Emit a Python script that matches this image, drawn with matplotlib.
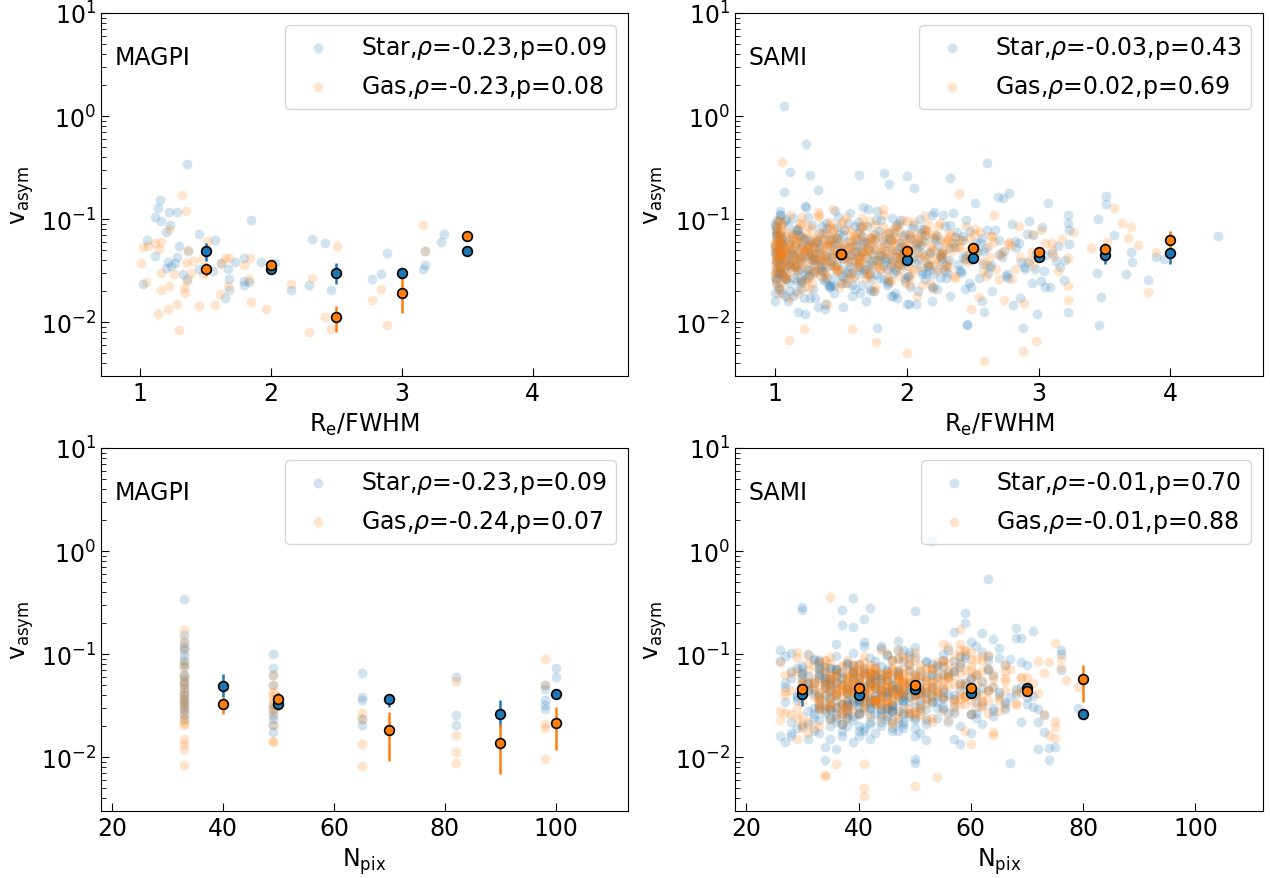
import matplotlib
matplotlib.use("Agg")
import matplotlib.pyplot as plt
import numpy as np

STAR_C = "#1f77b4"
GAS_C = "#ff7f0e"

# ---------------- MAGPI, v_asym vs Re/FWHM ----------------
magpi_star_re = [1.359, 1.149, 1.136, 1.113, 1.221, 1.282, 1.162, 1.851, 1.231, 1.195,
                 1.054, 1.449, 1.572, 1.297, 1.110, 1.282, 1.213, 1.264, 1.200, 1.238,
                 1.362, 1.328, 1.359, 1.021, 1.449, 1.559, 1.615, 1.674, 1.726, 1.795,
                 1.677, 1.679, 1.646, 1.795, 1.833, 1.795, 1.923, 2.031, 2.313, 2.413,
                 2.154, 2.287, 2.462, 2.774, 2.844, 2.887, 3.162, 3.174, 3.174, 3.297,
                 3.321]
magpi_star_v_re = [0.343, 0.153, 0.127, 0.104, 0.118, 0.116, 0.096, 0.099, 0.0875, 0.0753,
                   0.063, 0.0714, 0.062, 0.0542, 0.0436, 0.043, 0.0387, 0.0378, 0.0338, 0.0351,
                   0.0492, 0.0291, 0.0264, 0.0233, 0.0326, 0.0314, 0.0378, 0.033, 0.0387, 0.042,
                   0.026, 0.0205, 0.0171, 0.0251, 0.0245, 0.0228, 0.0387, 0.0378, 0.0634, 0.0588,
                   0.0203, 0.0231, 0.0203, 0.026, 0.0294, 0.0467, 0.033, 0.0359, 0.0488, 0.0601,
                   0.0719]
magpi_gas_re = [1.318, 1.351, 1.218, 1.521, 1.021, 1.059, 1.110, 1.162, 1.144, 1.362,
                1.003, 1.354, 1.405, 1.469, 1.649, 1.682, 1.621, 1.841, 1.792, 1.385,
                1.482, 1.162, 1.259, 1.041, 1.359, 1.831, 1.221, 1.156, 1.333, 1.346,
                1.674, 1.610, 1.851, 1.446, 1.569, 1.282, 1.213, 1.136, 1.959, 1.297,
                2.154, 2.313, 2.508, 2.415, 2.462, 2.287, 2.774, 2.844, 2.890, 3.162,
                3.174]
magpi_gas_v_re = [0.171, 0.120, 0.081, 0.0606, 0.0538, 0.0542, 0.058, 0.0593, 0.051, 0.0499,
                  0.0373, 0.0373, 0.0393, 0.0408, 0.0423, 0.0423, 0.0365, 0.0423, 0.0356, 0.0303,
                  0.0291, 0.0303, 0.0291, 0.0245, 0.0251, 0.0264, 0.0224, 0.0205, 0.0214, 0.0193,
                  0.0224, 0.0189, 0.0158, 0.0142, 0.0145, 0.0151, 0.0135, 0.0119, 0.0135, 0.0083,
                  0.0236, 0.0268, 0.0542, 0.0113, 0.0086, 0.0081, 0.0164, 0.0211, 0.0094, 0.0875,
                  0.0492]

magpi_re_bins = [1.5, 2.0, 2.5, 3.0, 3.5]
magpi_re_star_med = [0.0488, 0.0326, 0.0303, 0.0298, 0.0492]
magpi_re_star_lo = [0.039, 0.031, 0.0233, 0.029, 0.0465]
magpi_re_star_hi = [0.058, 0.0345, 0.0377, 0.0306, 0.052]
magpi_re_gas_med = [0.0326, 0.0359, 0.0112, 0.0191, 0.0688]
magpi_re_gas_lo = [0.0281, 0.034, 0.0081, 0.0123, 0.066]
magpi_re_gas_hi = [0.0377, 0.038, 0.0143, 0.027, 0.071]

# ---------------- MAGPI, v_asym vs Npix ----------------
magpi_star_npix = [33, 33, 33, 33, 33, 33, 33, 33, 33, 33, 33, 33,
                   33, 33, 33, 33, 33, 33, 33, 33, 33, 33, 33,
                   49, 49, 49, 49, 49, 49, 49, 49, 49, 49,
                   65, 65, 65, 65, 65,
                   82, 82, 82,
                   98, 98, 98, 98, 98,
                   100, 100]
magpi_star_v_npix = [0.343, 0.153, 0.127, 0.118, 0.110, 0.0977, 0.0875, 0.080, 0.0753, 0.063, 0.0602, 0.054,
                     0.0518, 0.047, 0.043, 0.040, 0.037, 0.035, 0.033, 0.031, 0.0284, 0.026, 0.0236,
                     0.0993, 0.0726, 0.0625, 0.0499, 0.0319, 0.0284, 0.0255, 0.0236, 0.0203, 0.0175,
                     0.0649, 0.0385, 0.0357, 0.0236, 0.0206,
                     0.060, 0.0258, 0.0203,
                     0.0499, 0.0463, 0.0357, 0.0319, 0.0296,
                     0.0726, 0.060]
magpi_gas_npix = [33, 33, 33, 33, 33, 33, 33, 33, 33, 33, 33,
                  33, 33, 33, 33, 33, 33, 33, 33, 33, 33, 33,
                  49, 49, 49, 49, 49, 49, 49, 49, 49, 49, 49,
                  65, 65, 65, 65,
                  82, 82, 82, 82,
                  98, 98, 98, 98, 98]
magpi_gas_v_npix = [0.171, 0.137, 0.114, 0.0843, 0.0753, 0.0625, 0.0558, 0.0518, 0.0463, 0.0414, 0.0385,
                    0.0343, 0.032, 0.0284, 0.0255, 0.0229, 0.0213, 0.0203, 0.0151, 0.0135, 0.012, 0.0083,
                    0.0625, 0.0499, 0.043, 0.040, 0.037, 0.033, 0.030, 0.027, 0.0203, 0.0145, 0.014,
                    0.027, 0.0236, 0.0135, 0.0082,
                    0.0546, 0.0165, 0.0112, 0.0087,
                    0.0888, 0.0499, 0.0211, 0.0191, 0.0095]

magpi_npix_bins = [40, 50, 70, 90, 100]
magpi_npix_star_med = [0.0488, 0.033, 0.0365, 0.026, 0.0411]
magpi_npix_star_lo = [0.0384, 0.031, 0.0307, 0.0195, 0.038]
magpi_npix_star_hi = [0.0634, 0.035, 0.0414, 0.0356, 0.044]
magpi_npix_gas_med = [0.0326, 0.0365, 0.0185, 0.0138, 0.0213]
magpi_npix_gas_lo = [0.0262, 0.0285, 0.0091, 0.0069, 0.0117]
magpi_npix_gas_hi = [0.0384, 0.043, 0.0275, 0.021, 0.0308]

# ---------------- SAMI (same galaxies in both panels) ----------------
sami_star_re = [1.00, 1.01, 1.02, 1.01, 1.03, 1.00, 1.04, 1.02, 1.05, 1.03,
                1.06, 1.01, 1.07, 1.04, 1.08, 1.02, 1.09, 1.05, 1.03, 1.07,
                1.10, 1.06, 1.08, 1.04, 1.09,
                1.11, 1.13, 1.12, 1.15, 1.14, 1.17, 1.16, 1.19, 1.18, 1.21,
                1.20, 1.23, 1.24, 1.25, 1.24, 1.27, 1.26, 1.29, 1.28, 1.12,
                1.16, 1.20, 1.24, 1.28, 1.14, 1.18, 1.22, 1.26, 1.30, 1.23,
                1.31, 1.33, 1.35, 1.32, 1.37, 1.34, 1.39, 1.36, 1.41, 1.38,
                1.43, 1.40, 1.45, 1.42, 1.47, 1.44, 1.49, 1.46, 1.51, 1.48,
                1.53, 1.50, 1.52, 1.54, 1.38,
                1.56, 1.58, 1.64, 1.57, 1.62, 1.59, 1.64, 1.61, 1.66, 1.63,
                1.68, 1.65, 1.70, 1.67, 1.72, 1.69, 1.74, 1.71, 1.76, 1.73,
                1.78, 1.75, 1.79, 1.77, 1.64,
                1.81, 1.83, 1.85, 1.82, 1.87, 1.84, 1.89, 1.86, 1.91, 1.88,
                1.93, 1.90, 1.95, 1.92, 1.97, 1.94, 1.99, 1.96, 2.00, 1.98,
                2.03, 2.02,
                2.06, 2.08, 2.10, 2.12, 2.14, 2.16, 2.18, 2.20, 2.22, 2.24,
                2.26, 2.28, 2.30, 2.32, 2.33, 2.07, 2.13, 2.19, 2.25, 2.31,
                2.37, 2.40, 2.43, 2.46, 2.49, 2.52, 2.55, 2.58, 2.61, 2.64,
                2.38, 2.44, 2.50, 2.46, 2.56, 2.62,
                2.69, 2.73, 2.78, 2.81, 2.85, 2.88, 2.92, 2.96, 2.99, 2.70,
                2.76, 2.83, 2.90, 2.95, 2.59,
                3.02, 3.05, 3.07, 3.13, 3.19, 3.22, 3.22, 3.23, 3.23, 3.22,
                3.10, 3.16,
                3.44, 3.45, 3.46, 3.47, 3.51, 3.51, 3.57, 3.66, 3.70, 3.71,
                3.83, 3.89, 3.95, 4.36,
                1.00, 1.02, 1.04, 1.01, 1.03, 1.05, 1.00, 1.02, 1.06, 1.01,
                1.03, 1.08, 1.00, 1.04, 1.07, 1.02, 1.09, 1.05, 1.01, 1.03,
                1.11, 1.15, 1.13, 1.19, 1.17, 1.22, 1.14, 1.25, 1.18, 1.28,
                1.12, 1.21, 1.16, 1.27, 1.23, 1.30, 1.19, 1.26, 1.13, 1.29,
                1.32, 1.36, 1.34, 1.40, 1.38, 1.43, 1.35, 1.46, 1.41, 1.49,
                1.33, 1.44, 1.37, 1.50, 1.47, 1.53, 1.39, 1.55, 1.42, 1.57,
                1.59, 1.62, 1.60, 1.66, 1.63, 1.69, 1.61, 1.72, 1.65, 1.75,
                1.58, 1.68, 1.64, 1.77, 1.71, 1.80, 1.67, 1.74, 1.79, 1.70,
                1.82, 1.85, 1.84, 1.90, 1.87, 1.93, 1.86, 1.96, 1.89, 1.99,
                1.83, 1.94, 1.88, 2.01, 1.97, 2.04, 1.91, 2.07, 1.95, 2.03,
                2.05, 2.09, 2.12, 2.08, 2.15, 2.11, 2.18, 2.14, 2.21, 2.17,
                2.24, 2.20, 2.27, 2.23, 2.30, 2.26, 2.33, 2.29, 2.36, 2.32,
                2.39, 2.42, 2.45, 2.41, 2.48, 2.44, 2.51, 2.47, 2.54, 2.57,
                2.60, 2.63, 2.67, 2.72, 2.77, 2.82, 2.87, 2.93, 2.98, 3.04,
                1.06, 1.10, 1.20, 1.31, 1.45, 1.52, 1.73, 1.88, 2.00, 2.19,
                1.04, 1.08, 1.24, 1.36, 1.48, 1.56, 1.78, 1.92, 2.10, 2.35,
                1.00, 1.01, 1.03, 1.02, 1.04, 1.00, 1.05, 1.01, 1.02, 1.03,
                1.07, 1.10, 1.14, 1.18, 1.21, 1.25, 1.29, 1.33, 1.37, 1.41,
                1.09, 1.12, 1.16, 1.20, 1.23, 1.27, 1.31, 1.35, 1.39, 1.43,
                1.45, 1.49, 1.53, 1.57, 1.61, 1.65, 1.69, 1.73, 1.77, 1.81,
                1.47, 1.51, 1.55, 1.59, 1.63, 1.67, 1.71, 1.75, 1.79, 1.83,
                1.85, 1.89, 1.93, 1.97, 2.01, 2.05, 2.09, 2.13, 2.17, 2.21,
                1.87, 1.91, 1.95, 1.99, 2.03, 2.07, 2.11, 2.15, 2.19, 2.23,
                2.25, 2.29, 2.33, 2.37, 2.41, 2.45, 2.49, 2.53, 2.57, 2.61,
                2.65, 2.70, 2.75, 2.80, 2.86, 2.91, 2.97, 3.03, 3.09, 3.15,
                1.04, 1.08, 1.13, 1.19, 1.26, 1.34, 1.42, 1.52, 1.62, 1.74,
                1.86, 1.98, 2.12, 2.27, 2.43, 2.58, 2.74, 2.89, 3.05, 3.20,
                1.01, 1.06, 1.11, 1.17, 1.24, 1.30, 1.38, 1.46, 1.56, 1.66]
sami_star_npix = [26, 31, 35, 28, 33, 38, 26, 42, 30, 36,
                  45, 29, 53, 33, 40, 27, 37, 44, 32, 39,
                  48, 34, 41, 30, 46,
                  31, 43, 30, 36, 49, 33, 38, 27, 34, 41,
                  52, 35, 63, 39, 44, 30, 47, 37, 32, 55,
                  40, 35, 42, 50, 28, 46, 33, 38, 57, 36,
                  34, 37, 29, 45, 40, 33, 51, 36, 42, 31,
                  48, 38, 35, 44, 39, 53, 32, 41, 46, 37,
                  30, 43, 49, 35, 58,
                  36, 42, 37, 47, 33, 39, 44, 52, 30, 40,
                  35, 46, 38, 41, 55, 34, 49, 43, 36, 60,
                  50, 31, 48, 45, 39,
                  44, 42, 37, 50, 41, 33, 46, 39, 54, 36,
                  48, 40, 43, 57, 35, 47, 38, 51, 50, 45,
                  34, 42,
                  59, 39, 45, 52, 36, 48, 41, 56, 43, 38,
                  50, 47, 61, 44, 59, 35, 53, 40, 49, 46,
                  42, 51, 45, 50, 56, 68, 44, 53, 39, 47,
                  58, 62, 40, 74, 54, 64,
                  57, 62, 68, 52, 60, 67, 48, 63, 72, 55,
                  66, 58, 70, 61, 75,
                  64, 69, 69, 71, 73, 76, 65, 70, 60, 74,
                  62, 66,
                  79, 76, 34, 73, 71, 64, 76, 72, 69, 67,
                  80, 65, 68, 57,
                  27, 33, 38, 30, 41, 35, 44, 31, 37, 29,
                  36, 42, 32, 47, 34, 39, 50, 28, 45, 40,
                  35, 41, 33, 46, 38, 30, 43, 37, 49, 34,
                  39, 32, 44, 36, 51, 40, 47, 31, 42, 38,
                  37, 43, 30, 48, 35, 41, 53, 33, 45, 39,
                  44, 36, 50, 34, 42, 38, 46, 32, 55, 40,
                  41, 35, 47, 39, 52, 33, 44, 37, 49, 43,
                  38, 46, 34, 50, 42, 36, 56, 40, 45, 48,
                  43, 39, 51, 36, 47, 41, 54, 34, 49, 45,
                  46, 40, 53, 38, 44, 58, 42, 50, 36, 48,
                  45, 52, 41, 49, 55, 43, 47, 60, 39, 51,
                  48, 44, 53, 57, 42, 50, 46, 62, 40, 54,
                  52, 47, 58, 45, 55, 61, 43, 50, 64, 56,
                  59, 54, 66, 61, 57, 64, 70, 63, 68, 71,
                  29, 26, 31, 28, 33, 27, 30, 32, 35, 28,
                  56, 58, 60, 57, 62, 59, 61, 63, 55, 65,
                  28, 32, 36, 40, 44, 48, 30, 34, 38, 42,
                  46, 33, 37, 41, 45, 49, 35, 39, 43, 47,
                  31, 35, 39, 43, 47, 51, 34, 38, 42, 46,
                  50, 36, 40, 44, 48, 52, 37, 41, 45, 49,
                  33, 38, 42, 46, 50, 54, 36, 40, 44, 48,
                  52, 39, 43, 47, 51, 55, 38, 42, 46, 50,
                  35, 41, 45, 49, 53, 57, 40, 44, 48, 52,
                  56, 43, 47, 51, 55, 59, 42, 46, 50, 54,
                  58, 61, 64, 67, 60, 63, 66, 69, 72, 62,
                  27, 29, 31, 33, 35, 37, 39, 41, 43, 45,
                  47, 49, 51, 53, 55, 57, 59, 61, 63, 65,
                  32, 34, 36, 38, 40, 42, 44, 46, 48, 50]
sami_star_v = [0.085, 0.052, 0.038, 0.068, 0.029, 0.046, 0.11, 0.034, 0.058, 0.022,
               0.043, 0.074, 1.26, 0.031, 0.049, 0.095, 0.026, 0.063, 0.041, 0.184,
               0.036, 0.055, 0.018, 0.071, 0.047,
               0.061, 0.039, 0.284, 0.044, 0.027, 0.079, 0.035, 0.052, 0.0125, 0.067,
               0.042, 0.029, 0.53, 0.056, 0.033, 0.27, 0.048, 0.021, 0.088, 0.037,
               0.058, 0.024, 0.064, 0.045, 0.102, 0.032, 0.017, 0.053, 0.040, 0.012,
               0.047, 0.19, 0.036, 0.061, 0.026, 0.074, 0.043, 0.031, 0.055, 0.015,
               0.039, 0.082, 0.050, 0.022, 0.066, 0.035, 0.045, 0.12, 0.028, 0.058,
               0.041, 0.033, 0.070, 0.024, 0.0135,
               0.052, 0.030, 0.27, 0.044, 0.064, 0.023, 0.038, 0.085, 0.048, 0.034,
               0.057, 0.019, 0.042, 0.13, 0.029, 0.060, 0.046, 0.036, 0.072, 0.026,
               0.0087, 0.051, 0.040, 0.098, 0.032,
               0.045, 0.28, 0.033, 0.062, 0.22, 0.039, 0.050, 0.025, 0.075, 0.036,
               0.043, 0.018, 0.058, 0.031, 0.047, 0.091, 0.027, 0.054, 0.26, 0.038,
               0.067, 0.015,
               0.20, 0.041, 0.056, 0.029, 0.070, 0.035, 0.048, 0.022, 0.063, 0.033,
               0.044, 0.110, 0.027, 0.052, 0.25, 0.037, 0.081, 0.016, 0.046, 0.030,
               0.054, 0.032, 0.068, 0.0095, 0.040, 0.143, 0.027, 0.049, 0.35, 0.036,
               0.075, 0.021, 0.045, 0.0093, 0.060, 0.030,
               0.163, 0.16, 0.18, 0.0146, 0.058, 0.0087, 0.038, 0.070, 0.012, 0.046,
               0.029, 0.052, 0.033, 0.024, 0.0125,
               0.025, 0.022, 0.142, 0.0394, 0.0257, 0.109, 0.0915, 0.0788, 0.0572, 0.0124,
               0.047, 0.034,
               0.030, 0.10, 0.0093, 0.0174, 0.166, 0.14, 0.070, 0.029, 0.0477, 0.038,
               0.0257, 0.0425, 0.041, 0.068,
               0.048, 0.062, 0.035, 0.077, 0.041, 0.029, 0.056, 0.044, 0.067, 0.038,
               0.053, 0.026, 0.090, 0.046, 0.033, 0.070, 0.040, 0.059, 0.031, 0.049,
               0.057, 0.036, 0.072, 0.043, 0.025, 0.064, 0.047, 0.032, 0.081, 0.040,
               0.034, 0.054, 0.020, 0.061, 0.045, 0.037, 0.069, 0.028, 0.050, 0.042,
               0.060, 0.039, 0.052, 0.027, 0.073, 0.044, 0.034, 0.058, 0.023, 0.047,
               0.041, 0.066, 0.031, 0.050, 0.037, 0.078, 0.045, 0.030, 0.062, 0.035,
               0.039, 0.055, 0.028, 0.068, 0.043, 0.033, 0.057, 0.021, 0.049, 0.063,
               0.046, 0.032, 0.075, 0.040, 0.052, 0.027, 0.061, 0.036, 0.044, 0.086,
               0.035, 0.058, 0.042, 0.030, 0.065, 0.048, 0.024, 0.054, 0.039, 0.071,
               0.050, 0.037, 0.063, 0.028, 0.045, 0.082, 0.033, 0.056, 0.041, 0.022,
               0.043, 0.060, 0.031, 0.052, 0.038, 0.074, 0.047, 0.026, 0.065, 0.035,
               0.055, 0.029, 0.047, 0.068, 0.036, 0.042, 0.088, 0.032, 0.058, 0.040,
               0.037, 0.063, 0.045, 0.030, 0.076, 0.041, 0.053, 0.024, 0.048, 0.066,
               0.052, 0.034, 0.079, 0.043, 0.027, 0.061, 0.038, 0.095, 0.046, 0.031,
               0.019, 0.016, 0.021, 0.017, 0.023, 0.014, 0.020, 0.018, 0.015, 0.022,
               0.110, 0.095, 0.130, 0.085, 0.105, 0.092, 0.120, 0.088, 0.100, 0.115,
               0.016, 0.024, 0.095, 0.030, 0.120, 0.019, 0.065, 0.027, 0.082, 0.021,
               0.028, 0.088, 0.018, 0.072, 0.025, 0.105, 0.031, 0.014, 0.062, 0.022,
               0.100, 0.020, 0.079, 0.026, 0.135, 0.017, 0.058, 0.032, 0.091, 0.023,
               0.019, 0.071, 0.027, 0.115, 0.021, 0.084, 0.016, 0.066, 0.029, 0.098,
               0.083, 0.024, 0.060, 0.018, 0.094, 0.030, 0.125, 0.020, 0.076, 0.026,
               0.023, 0.102, 0.017, 0.069, 0.028, 0.087, 0.020, 0.061, 0.032, 0.118,
               0.074, 0.019, 0.097, 0.025, 0.064, 0.015, 0.080, 0.029, 0.110, 0.021,
               0.027, 0.085, 0.018, 0.067, 0.031, 0.099, 0.022, 0.058, 0.016, 0.078,
               0.020, 0.062, 0.028, 0.090, 0.017, 0.071, 0.033, 0.084, 0.022, 0.055,
               0.034, 0.040, 0.046, 0.038, 0.044, 0.050, 0.036, 0.042, 0.048, 0.039,
               0.041, 0.035, 0.047, 0.039, 0.043, 0.037, 0.049, 0.034, 0.045, 0.040,
               0.026, 0.029, 0.024, 0.031, 0.027, 0.030, 0.025, 0.028, 0.032, 0.023]

sami_gas_re = [1.00, 1.01, 1.02, 1.03, 1.01, 1.04, 1.00, 1.05, 1.02, 1.06,
               1.03, 1.07, 1.04, 1.08, 1.05, 1.09, 1.01, 1.06, 1.03, 1.10,
               1.02, 1.07, 1.04, 1.08, 1.06, 1.11, 1.06, 1.09,
               1.12, 1.14, 1.13, 1.16, 1.15, 1.18, 1.17, 1.20, 1.19, 1.22,
               1.21, 1.24, 1.22, 1.26, 1.25, 1.28, 1.27, 1.30, 1.29, 1.32,
               1.31, 1.34, 1.33, 1.22, 1.15, 1.19, 1.26, 1.30, 1.35, 1.11,
               1.36, 1.38, 1.40, 1.37, 1.42, 1.39, 1.44, 1.41, 1.46, 1.43,
               1.48, 1.45, 1.50, 1.47, 1.52, 1.49, 1.54, 1.51, 1.56, 1.53,
               1.59, 1.55, 1.59, 1.57, 1.44, 1.40,
               1.61, 1.63, 1.65, 1.62, 1.67, 1.64, 1.69, 1.66, 1.71, 1.68,
               1.73, 1.70, 1.75, 1.72, 1.77, 1.74, 1.79, 1.76, 1.81, 1.78,
               1.83, 1.80, 1.82, 1.77,
               1.86, 1.88, 1.90, 1.87, 1.92, 1.89, 1.94, 1.91, 1.96, 1.93,
               1.98, 1.95, 2.00, 1.97, 2.02, 1.99, 2.04, 2.01, 2.06, 2.03,
               2.00, 2.08,
               2.11, 2.13, 2.15, 2.17, 2.19, 2.21, 2.23, 2.25, 2.27, 2.29,
               2.31, 2.33, 2.35, 2.37, 2.40, 2.14, 2.20, 2.26, 2.32, 2.40,
               2.43, 2.47, 2.49, 2.51, 2.55, 2.58, 2.59, 2.62, 2.65, 2.68,
               2.45, 2.53, 2.60, 2.66,
               2.74, 2.82, 2.85, 2.88, 2.89, 2.98, 3.02, 2.72, 2.78, 2.93,
               2.96, 3.05, 2.80, 2.95,
               3.10, 3.15, 3.22, 3.22, 3.22, 3.18, 3.26, 3.12,
               3.57, 3.63, 3.70, 3.68, 3.89, 3.83, 3.40, 3.52, 3.75,
               1.00, 1.01, 1.03, 1.02, 1.05, 1.00, 1.04, 1.02, 1.06, 1.03,
               1.01, 1.07, 1.04, 1.00, 1.08, 1.05, 1.02, 1.09, 1.03, 1.06,
               1.10, 1.13, 1.12, 1.16, 1.14, 1.19, 1.17, 1.22, 1.20, 1.25,
               1.11, 1.18, 1.15, 1.24, 1.21, 1.27, 1.23, 1.30, 1.26, 1.29,
               1.31, 1.34, 1.33, 1.38, 1.36, 1.41, 1.39, 1.44, 1.42, 1.47,
               1.32, 1.40, 1.37, 1.46, 1.43, 1.50, 1.45, 1.53, 1.48, 1.56,
               1.57, 1.60, 1.59, 1.64, 1.62, 1.67, 1.65, 1.70, 1.68, 1.73,
               1.58, 1.66, 1.63, 1.72, 1.69, 1.76, 1.71, 1.79, 1.74, 1.81,
               1.83, 1.86, 1.85, 1.90, 1.88, 1.93, 1.91, 1.96, 1.94, 1.99,
               1.84, 1.92, 1.89, 1.98, 1.95, 2.02, 1.97, 2.05, 2.00, 2.08,
               2.07, 2.10, 2.13, 2.09, 2.16, 2.12, 2.19, 2.15, 2.22, 2.18,
               2.25, 2.21, 2.28, 2.24, 2.31, 2.27, 2.34, 2.30, 2.37, 2.33,
               2.40, 2.44, 2.48, 2.52, 2.56, 2.61, 2.66, 2.71, 2.77, 2.86,
               1.05, 1.09, 1.18, 1.28, 1.35, 1.49, 1.61, 1.75, 1.87, 2.03,
               1.02, 1.12, 1.21, 1.33, 1.42, 1.54, 1.66, 1.82, 1.97, 2.14,
               1.03, 1.07, 1.16, 1.25, 1.38, 1.47, 1.58, 1.71, 1.86, 2.01,
               1.00, 1.02, 1.01, 1.03, 1.00, 1.04, 1.02, 1.05, 1.01, 1.03,
               1.06, 1.09, 1.13, 1.17, 1.21, 1.24, 1.28, 1.32, 1.36, 1.40,
               1.08, 1.11, 1.15, 1.19, 1.22, 1.26, 1.30, 1.34, 1.38, 1.42,
               1.44, 1.48, 1.52, 1.56, 1.60, 1.64, 1.68, 1.72, 1.76, 1.80,
               1.46, 1.50, 1.54, 1.58, 1.62, 1.66, 1.70, 1.74, 1.78, 1.82,
               1.84, 1.88, 1.92, 1.96, 2.00, 2.04, 2.08, 2.12, 2.16, 2.20,
               1.86, 1.90, 1.94, 1.98, 2.02, 2.06, 2.10, 2.14, 2.18, 2.22,
               2.24, 2.28, 2.32, 2.36, 2.40, 2.46, 2.52, 2.58, 2.64, 2.70,
               1.04, 1.07, 1.12, 1.18, 1.25, 1.31, 1.39, 1.47, 1.57, 1.67,
               1.79, 1.91, 2.03, 2.17, 2.31, 2.47, 2.63, 2.79, 2.95, 3.10,
               1.01, 1.05, 1.10, 1.16, 1.23, 1.29, 1.37, 1.45, 1.55, 1.65,
               1.03, 1.08, 1.14, 1.20, 1.27, 1.35, 1.43, 1.51, 1.61, 1.72]
sami_gas_npix = [30, 34, 28, 37, 32, 41, 26, 35, 39, 29,
                 44, 33, 38, 31, 42, 36, 27, 40, 30, 47,
                 26, 45, 34, 50, 35, 34, 38, 43,
                 36, 40, 33, 45, 38, 31, 47, 35, 42, 39,
                 51, 34, 36, 44, 30, 41, 37, 48, 33, 43,
                 46, 39, 29, 52, 35, 42, 38, 45, 40, 31,
                 37, 43, 34, 48, 39, 45, 32, 50, 41, 36,
                 46, 40, 53, 38, 44, 35, 49, 42, 47, 55,
                 41, 39, 51, 33, 58, 29,
                 42, 38, 47, 35, 51, 44, 40, 56, 37, 49,
                 45, 33, 53, 41, 48, 60, 39, 46, 43, 36,
                 50, 58, 44, 54,
                 45, 40, 52, 37, 48, 43, 55, 39, 50, 46,
                 42, 57, 47, 35, 53, 44, 49, 61, 41, 38,
                 41, 59,
                 47, 54, 42, 50, 58, 45, 61, 48, 52, 56,
                 44, 60, 49, 63, 58, 51, 46, 55, 62, 53,
                 57, 63, 60, 52, 64, 59, 41, 66, 62, 68,
                 55, 61, 65, 58,
                 64, 68, 72, 50, 75, 34, 66, 60, 70, 62,
                 65, 69, 73, 67,
                 70, 66, 72, 75, 74, 64, 76, 68,
                 75, 76, 74, 73, 79, 75, 71, 69, 77,
                 31, 36, 29, 40, 33, 38, 27, 43, 35, 32,
                 37, 41, 34, 45, 30, 39, 47, 33, 42, 36,
                 38, 44, 32, 40, 47, 35, 42, 37, 50, 34,
                 41, 36, 46, 39, 33, 48, 43, 37, 52, 40,
                 39, 45, 35, 50, 42, 37, 48, 33, 44, 41,
                 46, 38, 52, 36, 43, 40, 49, 35, 47, 55,
                 43, 37, 50, 41, 46, 34, 53, 39, 45, 48,
                 40, 49, 36, 52, 44, 38, 57, 42, 47, 50,
                 45, 41, 53, 38, 49, 43, 56, 36, 51, 47,
                 48, 42, 55, 40, 46, 59, 44, 52, 38, 50,
                 47, 54, 43, 51, 57, 45, 49, 60, 41, 53,
                 50, 46, 55, 59, 44, 52, 48, 62, 42, 56,
                 54, 58, 61, 53, 57, 63, 60, 66, 64, 69,
                 30, 28, 32, 29, 34, 31, 27, 33, 30, 26,
                 57, 59, 61, 56, 58, 60, 62, 55, 63, 59,
                 35, 39, 43, 47, 51, 37, 41, 45, 49, 53,
                 29, 33, 37, 41, 45, 31, 35, 39, 43, 47,
                 34, 38, 42, 46, 50, 36, 40, 44, 48, 32,
                 37, 41, 45, 49, 53, 39, 43, 47, 51, 35,
                 40, 44, 48, 52, 56, 42, 46, 50, 54, 38,
                 43, 47, 51, 55, 59, 45, 49, 53, 57, 41,
                 46, 50, 54, 58, 62, 48, 52, 56, 60, 44,
                 33, 37, 41, 45, 49, 35, 39, 43, 47, 51,
                 55, 59, 63, 57, 61, 65, 58, 62, 66, 60,
                 28, 30, 32, 34, 36, 38, 40, 42, 44, 46,
                 48, 50, 52, 54, 56, 58, 60, 62, 64, 66,
                 27, 31, 35, 39, 43, 47, 51, 55, 59, 63,
                 30, 34, 38, 42, 46, 50, 54, 58, 36, 40]
sami_gas_v = [0.052, 0.040, 0.065, 0.033, 0.078, 0.047, 0.028, 0.058, 0.043, 0.092,
              0.036, 0.055, 0.024, 0.070, 0.045, 0.031, 0.062, 0.050, 0.019, 0.038,
              0.083, 0.044, 0.057, 0.027, 0.355, 0.0067, 0.048, 0.035,
              0.049, 0.068, 0.037, 0.056, 0.030, 0.082, 0.044, 0.061, 0.025, 0.050,
              0.040, 0.073, 0.0086, 0.046, 0.034, 0.059, 0.021, 0.053, 0.042, 0.066,
              0.031, 0.048, 0.105, 0.038, 0.054, 0.045, 0.029, 0.064, 0.041, 0.017,
              0.051, 0.037, 0.070, 0.044, 0.058, 0.027, 0.047, 0.088, 0.035, 0.062,
              0.041, 0.053, 0.024, 0.066, 0.045, 0.032, 0.078, 0.049, 0.039, 0.057,
              0.0086, 0.043, 0.063, 0.029, 0.125, 0.015,
              0.055, 0.041, 0.072, 0.034, 0.060, 0.046, 0.026, 0.083, 0.050, 0.038,
              0.065, 0.030, 0.044, 0.095, 0.053, 0.036, 0.069, 0.022, 0.048, 0.040,
              0.058, 0.033, 0.110, 0.0064,
              0.049, 0.062, 0.037, 0.075, 0.044, 0.055, 0.028, 0.067, 0.041, 0.086,
              0.052, 0.033, 0.059, 0.046, 0.071, 0.024, 0.050, 0.039, 0.064, 0.043,
              0.0050, 0.018,
              0.057, 0.043, 0.079, 0.036, 0.065, 0.050, 0.031, 0.092, 0.047, 0.060,
              0.039, 0.070, 0.054, 0.027, 0.175, 0.045, 0.021, 0.063, 0.034, 0.052,
              0.062, 0.045, 0.0135, 0.071, 0.0174, 0.039, 0.0042, 0.055, 0.068, 0.033,
              0.085, 0.050, 0.028, 0.110,
              0.0164, 0.0328, 0.085, 0.0053, 0.0152, 0.0066, 0.078, 0.048, 0.060, 0.040,
              0.036, 0.0587, 0.026, 0.072,
              0.050, 0.031, 0.042, 0.0225, 0.0164, 0.064, 0.0742, 0.044,
              0.127, 0.091, 0.083, 0.065, 0.0477, 0.0197, 0.052, 0.060, 0.056,
              0.054, 0.041, 0.068, 0.047, 0.035, 0.059, 0.044, 0.073, 0.038, 0.051,
              0.046, 0.063, 0.032, 0.056, 0.042, 0.078, 0.049, 0.036, 0.061, 0.043,
              0.058, 0.039, 0.052, 0.070, 0.045, 0.033, 0.064, 0.048, 0.040, 0.085,
              0.044, 0.060, 0.037, 0.053, 0.067, 0.041, 0.050, 0.029, 0.057, 0.046,
              0.051, 0.035, 0.062, 0.045, 0.074, 0.039, 0.055, 0.043, 0.066, 0.031,
              0.040, 0.057, 0.047, 0.069, 0.036, 0.052, 0.081, 0.044, 0.060, 0.038,
              0.063, 0.045, 0.054, 0.034, 0.071, 0.049, 0.040, 0.058, 0.047, 0.065,
              0.048, 0.067, 0.039, 0.056, 0.043, 0.088, 0.051, 0.037, 0.062, 0.045,
              0.055, 0.042, 0.073, 0.049, 0.061, 0.035, 0.058, 0.046, 0.079, 0.040,
              0.047, 0.064, 0.038, 0.053, 0.044, 0.070, 0.057, 0.033, 0.050, 0.066,
              0.059, 0.043, 0.068, 0.048, 0.037, 0.062, 0.052, 0.076, 0.041, 0.055,
              0.044, 0.071, 0.050, 0.039, 0.064, 0.046, 0.058, 0.035, 0.067, 0.049,
              0.053, 0.041, 0.066, 0.048, 0.075, 0.036, 0.060, 0.045, 0.057, 0.043,
              0.021, 0.026, 0.019, 0.024, 0.028, 0.022, 0.027, 0.020, 0.025, 0.023,
              0.097, 0.110, 0.090, 0.118, 0.093, 0.104, 0.086, 0.125, 0.099, 0.108,
              0.031, 0.028, 0.034, 0.026, 0.030, 0.033, 0.029, 0.032, 0.027, 0.035,
              0.030, 0.085, 0.026, 0.070, 0.036, 0.098, 0.023, 0.076, 0.033, 0.062,
              0.088, 0.029, 0.067, 0.035, 0.105, 0.025, 0.080, 0.032, 0.072, 0.038,
              0.027, 0.074, 0.034, 0.092, 0.022, 0.066, 0.037, 0.110, 0.030, 0.082,
              0.079, 0.031, 0.095, 0.024, 0.069, 0.036, 0.087, 0.028, 0.064, 0.033,
              0.034, 0.090, 0.026, 0.077, 0.039, 0.102, 0.029, 0.071, 0.035, 0.084,
              0.068, 0.025, 0.083, 0.037, 0.096, 0.030, 0.073, 0.023, 0.089, 0.036,
              0.032, 0.079, 0.038, 0.065, 0.027, 0.093, 0.034, 0.076, 0.024, 0.070,
              0.086, 0.033, 0.074, 0.028, 0.063, 0.038, 0.081, 0.031, 0.069, 0.026,
              0.045, 0.051, 0.057, 0.048, 0.054, 0.042, 0.059, 0.046, 0.053, 0.049,
              0.052, 0.047, 0.056, 0.044, 0.060, 0.050, 0.043, 0.055, 0.048, 0.058,
              0.040, 0.046, 0.052, 0.043, 0.049, 0.055, 0.041, 0.047, 0.053, 0.044,
              0.058, 0.050, 0.062, 0.053, 0.047, 0.060, 0.055, 0.051, 0.064, 0.049]

sami_re_bins = [1.5, 2.0, 2.5, 3.0, 3.5, 4.0]
sami_re_star_med = [0.0457, 0.040, 0.0417, 0.0425, 0.0447, 0.0465]
sami_re_star_lo = [0.043, 0.038, 0.039, 0.039, 0.037, 0.037]
sami_re_star_hi = [0.048, 0.042, 0.044, 0.046, 0.048, 0.051]
sami_re_gas_med = [0.046, 0.0489, 0.052, 0.048, 0.0508, 0.0625]
sami_re_gas_lo = [0.044, 0.046, 0.049, 0.045, 0.047, 0.051]
sami_re_gas_hi = [0.048, 0.052, 0.055, 0.051, 0.058, 0.077]

sami_npix_bins = [30, 40, 50, 60, 70, 80]
sami_npix_star_med = [0.0414, 0.0398, 0.0463, 0.0421, 0.047, 0.026]
sami_npix_star_lo = [0.0317, 0.038, 0.044, 0.040, 0.043, 0.0255]
sami_npix_star_hi = [0.0485, 0.042, 0.049, 0.044, 0.051, 0.0265]
sami_npix_gas_med = [0.0456, 0.0473, 0.0499, 0.047, 0.044, 0.057]
sami_npix_gas_lo = [0.043, 0.045, 0.047, 0.045, 0.040, 0.0345]
sami_npix_gas_hi = [0.048, 0.050, 0.053, 0.049, 0.048, 0.079]

legend_labels = {
    "magpi_re": ("Star,$\\rho$=-0.23,p=0.09", "Gas,$\\rho$=-0.23,p=0.08"),
    "sami_re": ("Star,$\\rho$=-0.03,p=0.43", "Gas,$\\rho$=0.02,p=0.69"),
    "magpi_npix": ("Star,$\\rho$=-0.23,p=0.09", "Gas,$\\rho$=-0.24,p=0.07"),
    "sami_npix": ("Star,$\\rho$=-0.01,p=0.70", "Gas,$\\rho$=-0.01,p=0.88"),
}

FS = 17


def binned(ax, x, med, lo, hi, color):
    med = np.asarray(med)
    yerr = [med - np.asarray(lo), np.asarray(hi) - med]
    ax.errorbar(x, med, yerr=yerr, fmt="o", color=color, mec="k", mew=1.2,
                ms=7, elinewidth=1.8, capsize=0, zorder=4)


def panel(ax, xs, vs, xg, vg, bins, star_b, gas_b, labels, survey, xlabel, xlim, xticks):
    ax.scatter(xs, vs, s=50, color=STAR_C, alpha=0.2, linewidths=0, label=labels[0])
    ax.scatter(xg, vg, s=50, color=GAS_C, alpha=0.2, linewidths=0, label=labels[1])
    binned(ax, bins, *star_b, STAR_C)
    binned(ax, bins, *gas_b, GAS_C)
    ax.set_yscale("log")
    ax.set_ylim(3e-3, 10)
    ax.set_xlim(*xlim)
    ax.set_xticks(xticks)
    ax.set_yticks([1e-2, 1e-1, 1, 10])
    ax.tick_params(which="both", direction="in", labelsize=FS)
    ax.tick_params(which="major", length=6)
    ax.tick_params(which="minor", length=3.5)
    ax.set_xlabel(xlabel, fontsize=FS)
    ax.set_ylabel(r"v$_{\rm asym}$", fontsize=FS)
    ax.text(0.026, 0.88, survey, transform=ax.transAxes, fontsize=FS, va="center")
    ax.legend(loc="upper right", fontsize=FS)


fig = plt.figure(figsize=(12.7, 8.79), dpi=100)
ax1 = fig.add_axes([0.0795, 0.5711, 0.415, 0.4130])
ax2 = fig.add_axes([0.5787, 0.5711, 0.4157, 0.4130])
ax3 = fig.add_axes([0.0795, 0.0762, 0.415, 0.4130])
ax4 = fig.add_axes([0.5787, 0.0762, 0.4157, 0.4130])

re_lab = r"R$_{\rm e}$/FWHM"
np_lab = r"N$_{\rm pix}$"

panel(ax1, magpi_star_re, magpi_star_v_re, magpi_gas_re, magpi_gas_v_re, magpi_re_bins,
      (magpi_re_star_med, magpi_re_star_lo, magpi_re_star_hi),
      (magpi_re_gas_med, magpi_re_gas_lo, magpi_re_gas_hi),
      legend_labels["magpi_re"], "MAGPI", re_lab, (0.70, 4.73), [1, 2, 3, 4])
panel(ax2, sami_star_re, sami_star_v, sami_gas_re, sami_gas_v, sami_re_bins,
      (sami_re_star_med, sami_re_star_lo, sami_re_star_hi),
      (sami_re_gas_med, sami_re_gas_lo, sami_re_gas_hi),
      legend_labels["sami_re"], "SAMI", re_lab, (0.70, 4.70), [1, 2, 3, 4])
panel(ax3, magpi_star_npix, magpi_star_v_npix, magpi_gas_npix, magpi_gas_v_npix, magpi_npix_bins,
      (magpi_npix_star_med, magpi_npix_star_lo, magpi_npix_star_hi),
      (magpi_npix_gas_med, magpi_npix_gas_lo, magpi_npix_gas_hi),
      legend_labels["magpi_npix"], "MAGPI", np_lab, (18, 113), [20, 40, 60, 80, 100])
panel(ax4, sami_star_npix, sami_star_v, sami_gas_npix, sami_gas_v, sami_npix_bins,
      (sami_npix_star_med, sami_npix_star_lo, sami_npix_star_hi),
      (sami_npix_gas_med, sami_npix_gas_lo, sami_npix_gas_hi),
      legend_labels["sami_npix"], "SAMI", np_lab, (18, 112), [20, 40, 60, 80, 100])

fig.savefig("out.png", dpi=100)
